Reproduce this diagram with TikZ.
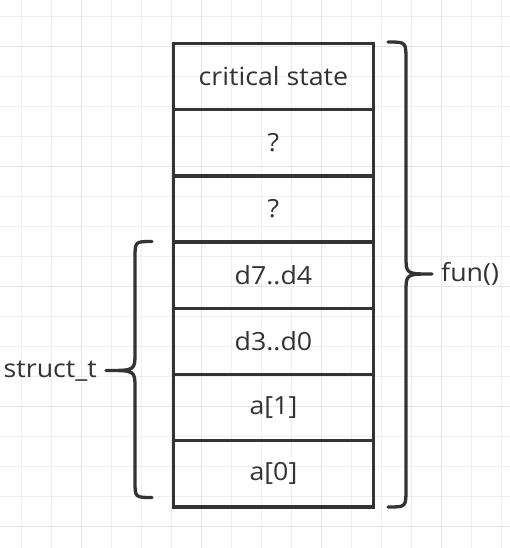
\documentclass[tikz,border=0pt]{standalone}
\usepackage{fontspec}
\setmainfont[FakeStretch=1.07]{Open Sans}
\definecolor{ink}{HTML}{333333}
\definecolor{gridminor}{HTML}{EFEFEF}
\definecolor{gridmajor}{HTML}{E4E4E4}
\begin{document}
\begin{tikzpicture}[x=1pt,y=-1pt,
  cell/.style={draw=ink,line width=3.5pt,minimum width=200pt,minimum height=66.2pt,inner sep=0pt,
    font=\fontsize{25}{29}\selectfont,text=ink,anchor=north west},
  lbl/.style={font=\fontsize{25}{29}\selectfont,text=ink,inner sep=0pt},
  bracestyle/.style={draw=ink,line width=3.3pt,line cap=round,line join=round}]
\useasboundingbox (0,0) rectangle (510,548);
\fill[white] (0,0) rectangle (510,548);
% grid
\foreach \i in {0,...,16} {
  \draw[gridminor,line width=1pt] ({21.7+30*\i},0) -- ({21.7+30*\i},548);
}
\foreach \i in {0,...,18} {
  \draw[gridminor,line width=1pt] (0,{16.7+30*\i}) -- (510,{16.7+30*\i});
}
\foreach \i in {0,...,3} {
  \draw[gridmajor,line width=1pt] ({81.7+120*\i},0) -- ({81.7+120*\i},548);
}
\foreach \i in {0,...,4} {
  \draw[gridmajor,line width=1pt] (0,{46.7+120*\i}) -- (510,{46.7+120*\i});
}
% cells
\node[cell] (c1) at (171.7,41.7) {critical state};
\node[cell] (c2) at (171.7,107.9) {?};
\node[cell] (c3) at (171.7,174.1) {?};
\node[cell] (c4) at (171.7,240.3) {d7..d4};
\node[cell] (c5) at (171.7,306.5) {d3..d0};
\node[cell] (c6) at (171.7,372.7) {a[1]};
\node[cell] (c7) at (171.7,438.9) {a[0]};
% right brace
\coordinate (rt) at (388,42);
\coordinate (rb) at (388,507);
\coordinate (rm) at (432,274);
\draw[bracestyle] (rt) .. controls (406,42) .. (406,60) -- (406,256)
  .. controls (406,274) .. (rm) .. controls (406,274) .. (406,292) -- (406,489)
  .. controls (406,507) .. (rb);
\node[lbl,anchor=west] (fun) at (441,274) {fun()};
% left brace
\coordinate (lt) at (152,241.5);
\coordinate (lb) at (152,497.5);
\coordinate (lm) at (106,370.5);
\draw[bracestyle] (lt) .. controls (135,241.5) .. (135,258) -- (135,353)
  .. controls (135,370.5) .. (lm) .. controls (135,370.5) .. (135,388) -- (135,481)
  .. controls (135,497.5) .. (lb);
\node[lbl,anchor=east] (st) at (97,371) {struct\_t};
\end{tikzpicture}
\end{document}
